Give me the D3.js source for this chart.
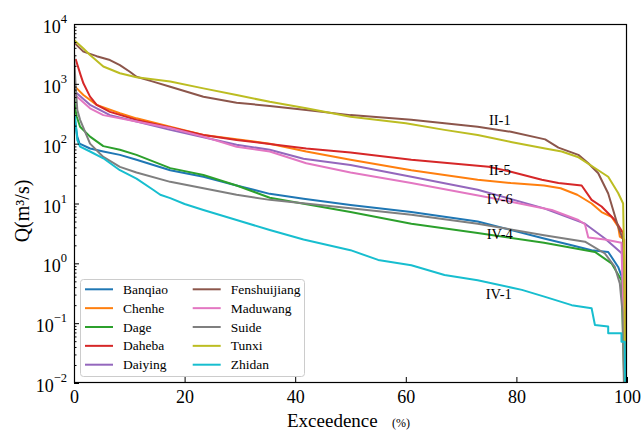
<!DOCTYPE html>
<html>
<head>
<meta charset="utf-8">
<script src="https://cdn.jsdelivr.net/npm/d3@7"></script>
<style>
  body { margin: 0; background: #fff; }
</style>
</head>
<body>
<div id="chart"></div>
<script>
// flow duration curves, [exceedence %, Q m3/s]
const banqiao = [[0, 320], [0.3, 200], [0.6, 130], [1, 100], [2.9, 83], [5.3, 74], [8.3, 65], [11.3, 54], [17.4, 36], [23.4, 28], [29.4, 20], [35.4, 14.5], [41.5, 12], [50, 9.4], [61, 7.2], [73, 5], [85, 2.6], [90, 2.0], [93.6, 1.66], [96.6, 1.55], [98.4, 0.87], [99.3, 0.52], [99.8, 0.005]];
const chenhe = [[0, 950], [0.5, 840], [1.7, 650], [4.1, 445], [8.3, 323], [11.3, 265], [17.4, 192], [23.4, 140], [35.4, 100], [42, 74], [50, 54], [61, 36], [73, 25], [79, 22], [85, 20], [88, 18], [91, 14], [93.6, 10], [95.4, 7.2], [97.2, 6], [98.4, 4.1], [98.7, 2.8], [99.5, 2.5], [99.8, 0.005]];
const dage = [[0, 700], [0.2, 390], [0.5, 282], [1.1, 192], [2.9, 131], [5.3, 91], [8.3, 79], [11.3, 65], [17.4, 39], [23.4, 30], [29.4, 20], [35.4, 12.5], [50, 7.2], [61, 4.6], [73, 3.2], [85, 2.2], [94.2, 1.55], [97.2, 1.0], [99, 0.52], [99.6, 0.005]];
const daheba = [[0.3, 2600], [0.6, 2100], [1.2, 1400], [1.7, 1020], [2.9, 610], [4.1, 445], [6.5, 340], [11.3, 250], [17.4, 187], [23.4, 140], [29.4, 115], [35.4, 99], [42, 83], [50, 71], [61, 54], [75, 41], [79, 34], [84.6, 25], [87.6, 22], [91.8, 20], [93.6, 11.5], [95.4, 8.9], [97.8, 5.3], [99.3, 3.2], [99.7, 0.005]];
const daiying = [[0, 800], [0.2, 740], [2.9, 445], [6.5, 300], [11.3, 234], [17.4, 170], [23.4, 128], [29.4, 96], [35.4, 79], [41.5, 56], [50, 44], [61, 28], [73, 17], [85, 8.3], [92.4, 4.6], [96, 2.6], [99.3, 1.4], [99.8, 0.005]];
const fenshuijiang = [[0, 5000], [0.2, 4700], [1.7, 3450], [4.1, 2900], [6.5, 2500], [8.3, 2050], [10.1, 1590], [11.3, 1310], [14.3, 1090], [17.4, 895], [23.4, 610], [29.4, 484], [35.4, 427], [42, 365], [50, 300], [61, 250], [67, 219], [73, 192], [79, 158], [85.2, 118], [87.6, 86], [91.2, 65], [93, 47], [94.8, 32], [96.6, 14.7], [98.4, 4.1], [99.3, 2.5], [99.7, 0.005]];
const maduwang = [[0, 700], [0.2, 650], [2.9, 390], [5.3, 300], [11.3, 234], [17.4, 183], [23.4, 131], [29.4, 89], [35.4, 74], [42, 47], [50, 33], [61, 22], [74.3, 13], [79, 10.7], [86.4, 7.8], [91.2, 5.3], [92.4, 4.5], [93, 2.7], [96, 2.5], [99, 2.2], [99.7, 0.005]];
const suide = [[0, 3300], [0.3, 890], [0.6, 365], [1.1, 250], [2.9, 100], [5.3, 60], [8.3, 41], [11.3, 33], [17.4, 23], [23.4, 18], [29.4, 14], [35.4, 11.5], [50, 8.3], [61, 6.5], [73, 4.6], [85, 2.95], [92.4, 2.3], [96, 1.46], [97.8, 0.87], [98.7, 0.46], [99.2, 0.15], [99.5, 0.005]];
const tunxi = [[0, 5400], [0.2, 5200], [1.7, 3900], [2.9, 3030], [5.3, 1950], [8.3, 1500], [11.3, 1290], [17.4, 1090], [23.4, 840], [29.4, 650], [35.4, 500], [42, 390], [50, 282], [60, 219], [67, 170], [73, 140], [79, 107], [85.2, 83], [88.2, 74], [91.1, 60], [94.8, 36], [96.6, 28], [98.4, 15], [99.3, 10], [99.5, 1], [99.7, 0.005]];
const zhidan = [[0, 300], [0.2, 280], [0.6, 115], [1.1, 89], [2.9, 74], [5.3, 57], [8.3, 36], [11.3, 26], [14.3, 17], [15.6, 14], [17.4, 12.3], [20, 9.8], [23.4, 7.8], [29.4, 5.3], [35.4, 3.6], [41.5, 2.5], [50, 1.66], [55, 1.14], [61, 0.93], [67, 0.64], [73, 0.52], [81, 0.36], [85.2, 0.275], [90, 0.2], [93.6, 0.178], [94.2, 0.093], [96.6, 0.088], [96.6, 0.068], [99, 0.068], [99, 0.049], [99.6, 0.049], [99.7, 0.005]];

const names = ["Banqiao", "Chenhe", "Dage", "Daheba", "Daiying", "Fenshuijiang", "Maduwang", "Suide", "Tunxi", "Zhidan"];
const series = [banqiao, chenhe, dage, daheba, daiying, fenshuijiang, maduwang, suide, tunxi, zhidan];
const colors = ["#1f77b4", "#ff7f0e", "#2ca02c", "#d62728", "#9467bd", "#8c564b", "#e377c2", "#7f7f7f", "#bcbd22", "#17becf"];

const xTicks = [0, 20, 40, 60, 80, 100];
const yExps = [-2, -1, 0, 1, 2, 3, 4];

// zone labels: [text, exceedence, Q]
const zoneLabels = [["II-1", 77, 250], ["II-5", 77, 36], ["IV-6", 77, 11.8], ["IV-4", 77, 3.1], ["IV-1", 76.8, 0.31]];

const FONT = '"Liberation Serif", "Times New Roman", serif';
const W = 643, H = 431;
const mLeft = 74, mRight = 627, mTop = 24, mBottom = 383;

const svg = d3.select("#chart").append("svg").attr("width", W).attr("height", H);

const x = d3.scaleLinear().domain([0, 100]).range([mLeft, mRight]);
const y = d3.scaleLog().domain([0.01, 10000]).range([mBottom, mTop]);

svg.append("defs").append("clipPath").attr("id", "plot")
  .append("rect").attr("x", mLeft).attr("y", mTop)
  .attr("width", mRight - mLeft).attr("height", mBottom - mTop);

const line = d3.line().x(d => x(d[0])).y(d => y(d[1]));

svg.append("g").attr("clip-path", "url(#plot)")
  .selectAll("path").data(series).enter().append("path")
  .attr("d", line)
  .attr("fill", "none")
  .attr("stroke", (d, i) => colors[i])
  .attr("stroke-width", 2)
  .attr("stroke-linejoin", "round");

// zone labels
svg.selectAll(".zone").data(zoneLabels).enter().append("text")
  .attr("class", "zone")
  .attr("x", d => x(d[1]))
  .attr("y", d => y(d[2]) + 5)
  .attr("text-anchor", "middle")
  .style("font-family", FONT)
  .style("font-size", "14.5px")
  .text(d => d[0]);

// x axis, ticks inward
const xAxis = svg.append("g").attr("transform", `translate(0,${mBottom})`)
  .call(d3.axisBottom(x).tickValues(xTicks).tickSizeInner(-6).tickSizeOuter(0).tickPadding(7));
xAxis.select(".domain").remove();
xAxis.selectAll("text").style("font-size", "18px").style("font-family", FONT).attr("fill", "#000");
xAxis.selectAll("line").attr("stroke", "#000");

// y axis major + minor ticks
const majors = yExps.map(e => Math.pow(10, e));
const minors = [];
yExps.slice(0, -1).forEach(e => {
  for (let k = 2; k <= 9; k++) minors.push(k * Math.pow(10, e));
});

const yAxis = svg.append("g").attr("transform", `translate(${mLeft},0)`)
  .call(d3.axisLeft(y).tickValues(majors).tickSizeInner(-5).tickSizeOuter(0).tickFormat(""));
yAxis.select(".domain").remove();
yAxis.selectAll("line").attr("stroke", "#000");

const yMinor = svg.append("g").attr("transform", `translate(${mLeft},0)`)
  .call(d3.axisLeft(y).tickValues(minors).tickSizeInner(-2.5).tickSizeOuter(0).tickFormat(""));
yMinor.select(".domain").remove();
yMinor.selectAll("line").attr("stroke", "#000");

const yLab = svg.selectAll(".ylab").data(yExps).enter().append("text")
  .attr("class", "ylab")
  .attr("x", 67)
  .attr("y", d => y(Math.pow(10, d)) + 9)
  .attr("text-anchor", "end")
  .style("font-family", FONT)
  .style("font-size", "18px");
yLab.append("tspan").text("10");
yLab.append("tspan").attr("dy", -10).style("font-size", "12.5px")
  .text(d => (d < 0 ? "\u2212" + (-d) : d));

// frame
svg.append("rect")
  .attr("x", mLeft + 0.5).attr("y", mTop + 0.5)
  .attr("width", mRight - mLeft - 1).attr("height", mBottom - mTop - 1)
  .attr("fill", "none").attr("stroke", "#000").attr("stroke-width", 1.2);

// axis titles
svg.append("text")
  .attr("transform", "translate(29,211) rotate(-90)")
  .attr("text-anchor", "middle")
  .style("font-family", FONT)
  .style("font-size", "20px")
  .text("Q(m\u00b3/s)");

svg.append("text").attr("x", 287).attr("y", 427)
  .style("font-family", FONT)
  .style("font-size", "19px").text("Exceedence");
svg.append("text").attr("x", 392).attr("y", 427)
  .style("font-family", FONT)
  .style("font-size", "12px").text("(%)");

// legend
const legend = svg.append("g");
legend.append("rect")
  .attr("x", 80.5).attr("y", 279.5).attr("width", 224).attr("height", 97)
  .attr("rx", 3).attr("fill", "#fff").attr("fill-opacity", 0.8)
  .attr("stroke", "#cccccc").attr("stroke-width", 1);

const item = legend.selectAll(".item").data(names).enter().append("g")
  .attr("class", "item")
  .attr("transform", (d, i) => {
    const col = Math.floor(i / 5), row = i % 5;
    return `translate(${85 + col * 107.7},${289.3 + row * 18.85})`;
  });
item.append("line").attr("x1", 0).attr("x2", 28).attr("y1", 0).attr("y2", 0)
  .attr("stroke", (d, i) => colors[i]).attr("stroke-width", 2);
item.append("text").attr("x", 38).attr("y", 4.5)
  .style("font-family", FONT)
  .style("font-size", "13.5px").text(d => d);
</script>
</body>
</html>
